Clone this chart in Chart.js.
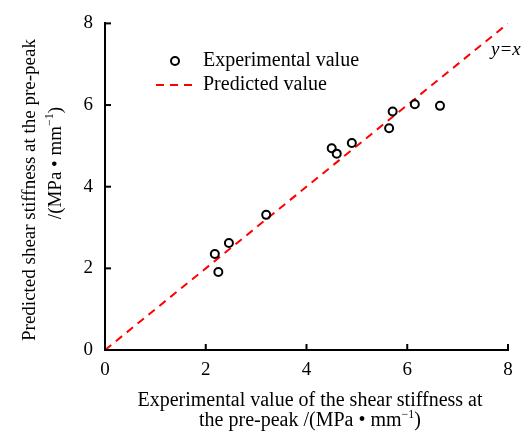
<!DOCTYPE html>
<html>
<head>
<meta charset="utf-8">
<script src="https://cdn.jsdelivr.net/npm/chart.js@4"></script>
<style>
  html, body { margin: 0; padding: 0; background: #fff; }
  #wrap { width: 523px; height: 434px; position: relative; }
</style>
</head>
<body>
<div id="wrap"><canvas id="c" width="523" height="434"></canvas></div>
<script>
// Experimental vs. predicted pre-peak shear stiffness (MPa·mm^-1)
const experimentalX = [2.18, 2.25, 2.46, 3.20, 4.50, 4.60, 4.90, 5.64, 5.71, 6.15, 6.65];
const predictedY    = [2.35, 1.91, 2.62, 3.31, 4.94, 4.81, 5.07, 5.43, 5.84, 6.02, 5.98];
const referenceLine = [0, 8];          // y = x from 0 to 8
const tickValues    = [0, 2, 4, 6, 8];
const legendLabels  = ['Experimental value', 'Predicted value'];
const xTitleLines   = ['Experimental value of the shear stiffness at', 'the pre-peak /(MPa \u2022 mm'];
const yTitleLines   = ['Predicted shear stiffness at the pre-peak', '/(MPa \u2022 mm'];
const unitExponent  = '\u22121';
const lineLabel     = 'y=x';

const SERIF = '"Liberation Serif", "Times New Roman", serif';
const RED = '#ff0000';

const points = experimentalX.map((x, i) => ({ x: x, y: predictedY[i] }));
const linePts = referenceLine.map(v => ({ x: v, y: v }));

// text with a trailing superscript, e.g. "mm" + "−1" + ")"
function drawUnitText(ctx, base, sup, tail, cx, cy, size) {
  ctx.font = size + 'px ' + SERIF;
  const wBase = ctx.measureText(base).width;
  const wTail = ctx.measureText(tail).width;
  ctx.font = Math.round(size * 0.62) + 'px ' + SERIF;
  const wSup = ctx.measureText(sup).width;
  const total = wBase + wSup + wTail;
  let x = cx - total / 2;
  ctx.textAlign = 'left';
  ctx.textBaseline = 'middle';
  ctx.font = size + 'px ' + SERIF;
  ctx.fillText(base, x, cy);
  x += wBase;
  ctx.font = Math.round(size * 0.62) + 'px ' + SERIF;
  ctx.fillText(sup, x, cy - size * 0.33);
  x += wSup;
  ctx.font = size + 'px ' + SERIF;
  ctx.fillText(tail, x, cy);
}

const decorations = {
  id: 'decorations',
  afterDraw(chart) {
    const ctx = chart.ctx;
    const xs = chart.scales.x, ys = chart.scales.y;
    const area = chart.chartArea;
    ctx.save();
    ctx.strokeStyle = '#000';
    ctx.fillStyle = '#000';
    ctx.lineWidth = 2;
    // inward tick marks
    tickValues.forEach(v => {
      const px = xs.getPixelForValue(v);
      ctx.beginPath();
      ctx.moveTo(px, area.bottom);
      ctx.lineTo(px, area.bottom - 6);
      ctx.stroke();
      const py = ys.getPixelForValue(v);
      ctx.beginPath();
      ctx.moveTo(area.left, py);
      ctx.lineTo(area.left + 6, py);
      ctx.stroke();
    });

    // legend
    const ds0 = chart.data.datasets[0];
    const ds1 = chart.data.datasets[1];
    ctx.lineWidth = ds0.borderWidth;
    ctx.strokeStyle = ds0.borderColor;
    ctx.beginPath();
    ctx.arc(175, 61, ds0.pointRadius, 0, Math.PI * 2);
    ctx.stroke();
    ctx.strokeStyle = ds1.borderColor;
    ctx.lineWidth = ds1.borderWidth;
    ctx.setLineDash(ds1.borderDash);
    ctx.beginPath();
    ctx.moveTo(156, 85);
    ctx.lineTo(194, 85);
    ctx.stroke();
    ctx.setLineDash([]);
    ctx.fillStyle = '#000';
    ctx.font = '20px ' + SERIF;
    ctx.textAlign = 'left';
    ctx.textBaseline = 'middle';
    ctx.fillText(legendLabels[0], 203, 61);
    ctx.fillText(legendLabels[1], 203, 85);

    // y = x label
    ctx.font = 'italic 19px ' + SERIF;
    ctx.fillText(lineLabel, 491, 50);

    // x-axis title
    ctx.font = '20px ' + SERIF;
    ctx.textAlign = 'center';
    ctx.fillText(xTitleLines[0], 310, 401);
    drawUnitText(ctx, xTitleLines[1], unitExponent, ')', 310, 421, 20);

    // y-axis title (rotated)
    ctx.save();
    ctx.translate(30, 190);
    ctx.rotate(-Math.PI / 2);
    ctx.font = '19px ' + SERIF;
    ctx.textAlign = 'center';
    ctx.textBaseline = 'middle';
    ctx.fillText(yTitleLines[0], 0, 0);
    ctx.restore();
    ctx.save();
    ctx.translate(56, 163);
    ctx.rotate(-Math.PI / 2);
    drawUnitText(ctx, yTitleLines[1], unitExponent, ')', 0, 0, 19);
    ctx.restore();

    ctx.restore();
  }
};

new Chart(document.getElementById('c'), {
  type: 'scatter',
  data: {
    datasets: [
      {
        label: legendLabels[0],
        data: points,
        pointRadius: 4,
        pointHoverRadius: 4,
        borderWidth: 2,
        borderColor: '#000',
        backgroundColor: 'rgba(255,255,255,0)',
        order: 0
      },
      {
        type: 'line',
        label: legendLabels[1],
        data: linePts,
        showLine: true,
        borderColor: RED,
        borderWidth: 2,
        borderDash: [8, 6],
        pointRadius: 0,
        fill: false,
        order: 1
      }
    ]
  },
  options: {
    responsive: false,
    animation: false,
    events: [],
    layout: { padding: { top: 20, right: 15, left: 0, bottom: 0 } },
    plugins: { legend: { display: false }, tooltip: { enabled: false } },
    scales: {
      x: {
        type: 'linear',
        min: 0, max: 8,
        afterBuildTicks(scale) { scale.ticks = tickValues.map(v => ({ value: v })); },
        afterFit(scale) { scale.height = 84; },
        grid: { display: false, drawTicks: false },
        border: { display: true, color: '#000', width: 2 },
        ticks: { color: '#000', padding: 9, font: { family: SERIF, size: 19 }, maxRotation: 0 }
      },
      y: {
        type: 'linear',
        min: 0, max: 8,
        afterBuildTicks(scale) { scale.ticks = tickValues.map(v => ({ value: v })); },
        afterFit(scale) { scale.width = 105; },
        grid: { display: false, drawTicks: false },
        border: { display: true, color: '#000', width: 2 },
        ticks: { color: '#000', padding: 12, font: { family: SERIF, size: 19 } }
      }
    }
  },
  plugins: [decorations]
});
</script>
</body>
</html>
